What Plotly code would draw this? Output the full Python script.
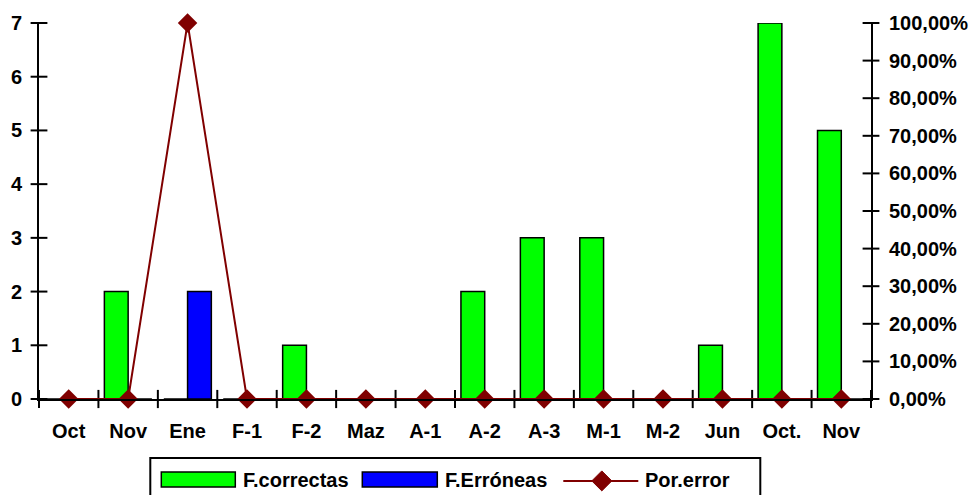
import plotly.graph_objects as go

# Monthly counts and error percentage
meses = ["Oct", "Nov", "Ene", "F-1", "F-2", "Maz", "A-1", "A-2", "A-3", "M-1", "M-2", "Jun", "Oct.", "Nov"]
f_correctas = [0, 2, 0, 0, 1, 0, 0, 2, 3, 3, 0, 1, 7, 5]
f_erroneas = [0, 0, 2, 0, 0, 0, 0, 0, 0, 0, 0, 0, 0, 0]
por_error = [0, 0, 1.0, 0, 0, 0, 0, 0, 0, 0, 0, 0, 0, 0]
nombres = ["F.correctas", "F.Erróneas", "Por.error"]
ticks_izq = [0, 1, 2, 3, 4, 5, 6, 7]
ticks_der = [0, 0.1, 0.2, 0.3, 0.4, 0.5, 0.6, 0.7, 0.8, 0.9, 1.0]

W, H = 969, 495
L, R, T, B = 38.7, 98.3, 22.5, 96
FONT = dict(family="Arial, Liberation Sans, sans-serif", size=20, color="black", weight="bold")
pw = W - L - R
ph = H - T - B

idx = list(range(len(meses)))
xr = [-0.5, len(meses) - 0.5]
bordes = [i - 0.5 for i in range(len(meses) + 1)]

fig = go.Figure()
fig.add_trace(go.Bar(x=idx, y=f_correctas, name=nombres[0],
                     marker=dict(color="#00FF00", line=dict(color="black", width=1.5))))
fig.add_trace(go.Bar(x=idx, y=f_erroneas, name=nombres[1],
                     marker=dict(color="#0000FF", line=dict(color="black", width=1.5))))

# tick marks that cross the axis lines
tick_mk = dict(color="black", line=dict(color="black", width=2))
fig.add_trace(go.Scatter(x=[xr[0]] * len(ticks_izq), y=ticks_izq, mode="markers", cliponaxis=False,
                         marker=dict(symbol="line-ew", size=12, **tick_mk), hoverinfo="skip"))
fig.add_trace(go.Scatter(x=[xr[1]] * len(ticks_der), y=ticks_der, yaxis="y2", mode="markers",
                         cliponaxis=False, marker=dict(symbol="line-ew", size=12, **tick_mk),
                         hoverinfo="skip"))
fig.add_trace(go.Scatter(x=bordes, y=[0] * len(bordes), mode="markers", cliponaxis=False,
                         marker=dict(symbol="line-ns", size=13, **tick_mk), hoverinfo="skip"))

fig.add_trace(go.Scatter(x=idx, y=por_error, name=nombres[2], mode="lines+markers", yaxis="y2",
                         line=dict(color="#800000", width=2),
                         marker=dict(symbol="diamond", size=15, color="#800000"),
                         cliponaxis=False))

fig.update_layout(
    template="none",
    width=W, height=H,
    margin=dict(l=L, r=R, t=T, b=B, autoexpand=False),
    plot_bgcolor="white", paper_bgcolor="white",
    showlegend=False,
    barmode="group", bargap=0.2, bargroupgap=0,
    separators=",.",
    font=FONT,
    xaxis=dict(range=xr, tickmode="array", tickvals=idx, ticktext=meses, ticks="",
               showline=True, linecolor="black", linewidth=2, tickfont=FONT, automargin=False,
               ticklabelstandoff=13, showgrid=False, zeroline=False),
    yaxis=dict(range=[0, 7], tickmode="array", tickvals=ticks_izq, ticks="", showline=True,
               linecolor="black", linewidth=2, tickfont=FONT, ticklabelstandoff=11,
               automargin=False, showgrid=False, zeroline=False),
    yaxis2=dict(range=[0, 1], tickmode="array", tickvals=ticks_der, tickformat=".2%",
                overlaying="y", side="right", anchor="x", ticks="", showline=True,
                linecolor="black", linewidth=2, tickfont=FONT, ticklabelstandoff=12,
                automargin=False, showgrid=False, zeroline=False),
)


# Legend box laid out in paper coordinates
def px(x):
    return (x - L) / pw


def py(y):
    return (H - B - y) / ph


shapes = [
    dict(type="rect", xref="paper", yref="paper", x0=px(150), x1=px(760), y0=py(500), y1=py(458),
         line=dict(color="black", width=2), fillcolor="white", layer="above"),
    dict(type="rect", xref="paper", yref="paper", x0=px(161), x1=px(235), y0=py(487), y1=py(472),
         line=dict(color="black", width=1.5), fillcolor="#00FF00"),
    dict(type="rect", xref="paper", yref="paper", x0=px(362), x1=px(437), y0=py(487), y1=py(472),
         line=dict(color="black", width=1.5), fillcolor="#0000FF"),
    dict(type="line", xref="paper", yref="paper", x0=px(563), x1=px(638), y0=py(481), y1=py(481),
         line=dict(color="#800000", width=2)),
    dict(type="path", xref="paper", yref="paper",
         path="M {0},{1} L {2},{3} L {0},{4} L {5},{3} Z".format(px(601.5), py(471), px(611.5), py(481),
                                                              py(491), px(591.5)),
         fillcolor="#800000", line=dict(color="#800000", width=1)),
]
annotations = []
for name, x0 in zip(nombres, [241, 443, 643]):
    annotations.append(dict(text=name, xref="paper", yref="paper", x=px(x0), y=py(480), xanchor="left",
                            yanchor="middle", showarrow=False, font=FONT))

fig.update_layout(shapes=shapes, annotations=annotations)
fig.write_html("out.html")
